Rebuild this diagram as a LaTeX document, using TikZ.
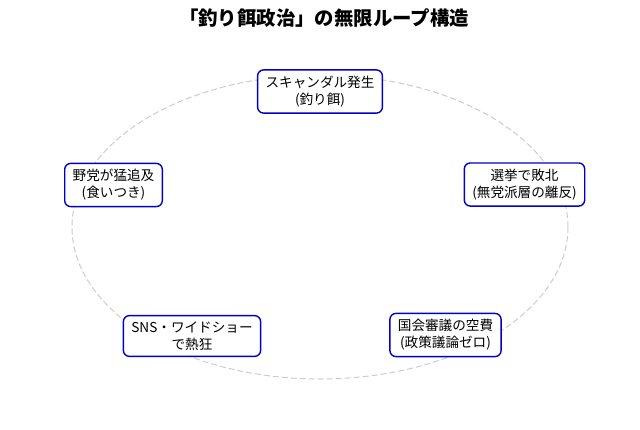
\documentclass[tikz,border=0pt]{standalone}
\usepackage{fontspec}
\setmainfont{Noto Sans CJK JP}
\tikzset{
    stagebox/.style={draw=blue!80!black, line width=1.4pt, rounded corners=6pt,
        fill=white, align=center, inner xsep=8pt, inner ysep=6pt,
        font=\fontsize{13.6}{17}\selectfont},
    loopline/.style={draw=black!20, line width=1pt, dash pattern=on 6pt off 3pt}
}
\begin{document}
\begin{tikzpicture}[x=1pt,y=-1pt]
        \useasboundingbox (0,0) rectangle (640,429);
        \node[font=\fontsize{19.4}{21}\selectfont\bfseries] (title) at (324,18) {「釣り餌政治」の無限ループ構造};
        \draw[loopline] (320,227) ellipse (248 and 152);
        \node[stagebox] (scandal) at (320,91.5) {スキャンダル発生\\(釣り餌)};
        \node[stagebox] (defeat) at (524.5,184.5) {選挙で敗北\\(無党派層の離反)};
        \node[stagebox] (waste) at (445.5,335) {国会審議の空費\\(政策議論ゼロ)};
        \node[stagebox] (frenzy) at (192,336) {SNS・ワイドショー\\で熱狂};
        \node[stagebox] (attack) at (113.5,185) {野党が猛追及\\(食いつき)};
    \end{tikzpicture}
\end{document}
